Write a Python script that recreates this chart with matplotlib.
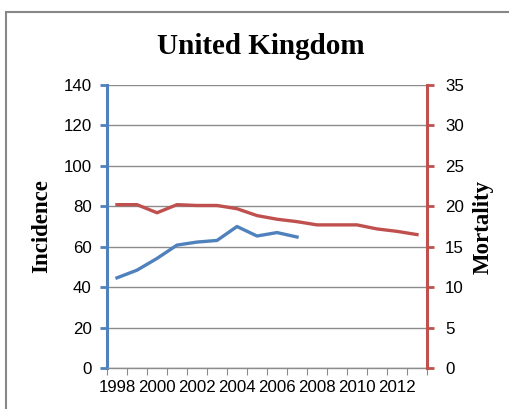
import matplotlib
matplotlib.use("Agg", force=True)
import matplotlib.pyplot as plt
from matplotlib.patches import Rectangle
from matplotlib.ticker import FixedLocator, NullFormatter

years = list(range(1998, 2014))
incidence = [44.6, 48.4, 54.2, 60.8, 62.3, 63.1, 70.0, 65.3, 67.0, 64.8]
mortality = [20.2, 20.2, 19.2, 20.2, 20.1, 20.1, 19.7, 18.85, 18.4, 18.1,
             17.7, 17.7, 17.7, 17.2, 16.9, 16.5]
year_labels = [str(y) if (y - 1998) % 2 == 0 else "" for y in years]

BLUE = "#4F81BD"
RED = "#C0504D"
GRID = "#8C8C8C"
tick_font = "Liberation Sans"
serif = "Liberation Serif"
tick_size = 12.2

fig = plt.figure(figsize=(5.10, 4.09), dpi=100)
fig.patches.append(Rectangle((6 / 510, -0.1), 1.2, 1 - 12 / 409 + 0.1,
                             transform=fig.transFigure, fill=False,
                             edgecolor="#888888", linewidth=1.5))

ax1 = fig.add_axes([107 / 510, 41 / 409, 320 / 510, 283 / 409])
ax2 = ax1.twinx()

x = list(range(len(years)))
ax1.plot(x[:len(incidence)], incidence, color=BLUE, linewidth=2.4,
         solid_joinstyle="round", zorder=3)
ax2.plot(x, mortality, color=RED, linewidth=2.4, solid_joinstyle="round", zorder=3)

ax1.set_xlim(-0.5, len(years) - 0.5)
ax1.set_ylim(0, 140)
ax2.set_ylim(0, 35)
ax1.set_yticks(range(0, 141, 20))
ax2.set_yticks(range(0, 36, 5))

ax1.xaxis.set_major_locator(FixedLocator([i - 0.5 for i in range(len(years) + 1)]))
ax1.xaxis.set_major_formatter(NullFormatter())
ax1.set_xticks(x, minor=True)
ax1.set_xticklabels(year_labels, minor=True, fontfamily=tick_font, fontsize=tick_size)
ax1.tick_params(axis="x", which="major", length=5, color=GRID, direction="out")
ax1.tick_params(axis="x", which="minor", length=0, pad=9)

ax1.grid(axis="y", color=GRID, linewidth=1)
ax1.set_axisbelow(True)

for spine in ["top", "right"]:
    ax1.spines[spine].set_visible(False)
for spine in ["top", "left", "bottom"]:
    ax2.spines[spine].set_visible(False)
ax1.spines["left"].set_color(BLUE)
ax1.spines["left"].set_linewidth(2.2)
ax1.spines["bottom"].set_color(GRID)
ax1.spines["bottom"].set_linewidth(1)
ax2.spines["right"].set_color(RED)
ax2.spines["right"].set_linewidth(2.2)

ax1.tick_params(axis="y", colors=BLUE, length=5, width=2, labelcolor="black",
                labelsize=tick_size, pad=6)
ax2.tick_params(axis="y", colors=RED, length=5, width=2, labelcolor="black",
                labelsize=tick_size, pad=8)
for lab in ax1.get_yticklabels() + ax2.get_yticklabels():
    lab.set_fontfamily(tick_font)

ax1.set_ylabel("Incidence", fontfamily=serif, fontweight="bold", fontsize=16.5, labelpad=8)
ax2.set_ylabel("Mortality", fontfamily=serif, fontweight="bold", fontsize=16.5, labelpad=6)

fig.text(261 / 510, 1 - 46 / 409, "United Kingdom", ha="center", va="center",
         fontfamily=serif, fontweight="bold", fontsize=21)

fig.savefig("out.png", dpi=100)
